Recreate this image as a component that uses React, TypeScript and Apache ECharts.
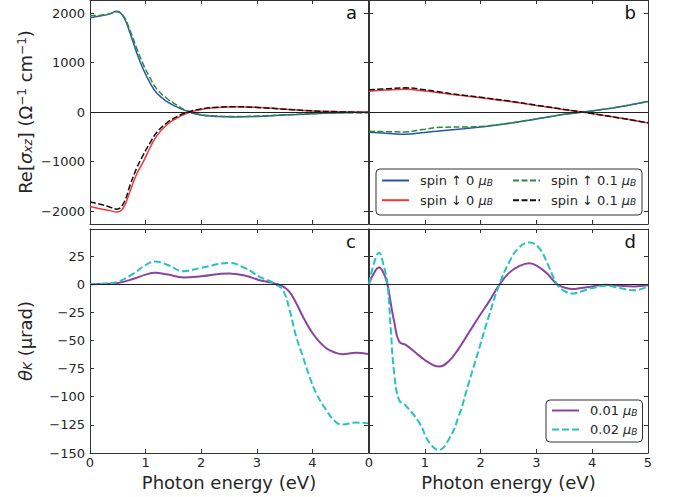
import React, { useEffect, useRef } from 'react';
import * as echarts from 'echarts';

// ---------- data ----------
const energyA = [0, 0.18, 0.36, 0.48, 0.6, 0.72, 0.84, 0.96, 1.08, 1.2, 1.38, 1.55, 1.73, 1.97, 2.3, 2.6, 3.0, 3.5, 4.0, 4.5, 5.0];
const upA0 = [1907, 1940, 1985, 2040, 1930, 1600, 1200, 860, 590, 385, 215, 110, 25, -55, -90, -100, -90, -60, -35, -15, -5];
const downA0 = [-1905, -1950, -1990, -2020, -1935, -1600, -1250, -1000, -720, -480, -260, -130, -30, 50, 95, 110, 100, 60, 25, 8, 0];
const upA01 = [1950, 1955, 1990, 2030, 1945, 1650, 1290, 960, 690, 470, 280, 150, 35, -45, -80, -90, -80, -55, -30, -15, -10];
const downA01 = [-1815, -1860, -1920, -1960, -1850, -1480, -1130, -860, -620, -410, -220, -100, -10, 60, 100, 110, 95, 60, 25, 5, -10];

const energyB = [0, 0.3, 0.65, 1.0, 1.3, 1.7, 2.0, 2.5, 3.0, 3.5, 3.84, 4.0, 4.5, 5.0];
const upB0 = [-405, -425, -445, -410, -375, -335, -300, -230, -140, -45, 0, 25, 110, 215];
const downB0 = [420, 445, 462, 425, 385, 330, 290, 220, 135, 50, 0, -30, -120, -220];
const upB01 = [-385, -395, -400, -345, -305, -300, -290, -225, -135, -45, 0, 25, 110, 215];
const downB01 = [450, 470, 490, 450, 400, 340, 300, 225, 140, 55, 0, -30, -120, -215];

const energyC = [0, 0.3, 0.5, 0.8, 1.0, 1.17, 1.4, 1.68, 2.0, 2.5, 2.8, 3.05, 3.2, 3.33, 3.47, 3.59, 3.71, 3.83, 3.95, 4.07, 4.25, 4.42, 4.54, 4.78, 5.0];
const kerrC001 = [0, 0.3, 1, 5, 8.5, 10.2, 8.5, 6, 7, 9.5, 7.5, 3.5, 2, 0.5, -2, -7, -17, -29, -39.5, -48, -57, -61, -62.2, -61, -62];
const kerrC002 = [0, 0.5, 2, 10, 17, 20.2, 17, 11.5, 14.5, 18.8, 14, 6.5, 3.5, 0, -5.3, -23, -46.8, -64.6, -82.4, -97, -112, -122.4, -124.7, -123, -123.5];

const energyD = [0, 0.08, 0.18, 0.26, 0.33, 0.39, 0.45, 0.54, 0.66, 0.9, 1.08, 1.25, 1.43, 1.61, 1.79, 1.97, 2.15, 2.33, 2.51, 2.69, 2.87, 3.05, 3.2, 3.37, 3.5, 3.65, 3.8, 4.0, 4.25, 4.5, 4.75, 5.0];
const kerrD001 = [0, 9, 14.8, 10, 0, -17, -33, -51, -54, -63.5, -70, -73.2, -68.5, -57, -43, -29, -15.5, -1, 10, 16, 18.5, 15, 9, 0, -3, -4.4, -3.5, -2, -0.5, -1.5, -2, -1];
const kerrD002 = [0, 17, 28, 17, 0, -40, -78.5, -103, -108, -123, -140.7, -147.3, -138, -117, -87.4, -57.8, -28, -1, 19.3, 32.6, 37, 32, 18, 0, -6, -8.3, -6.5, -3.5, -1.5, -3.5, -5.5, -2];

const xTicks = [0, 1, 2, 3, 4, 5];
const sigmaTicks = [-2000, -1000, 0, 1000, 2000];
const kerrTicks = [-150, -125, -100, -75, -50, -25, 0, 25];

const nameUp0 = 'spin ↑ 0 μB';
const nameDown0 = 'spin ↓ 0 μB';
const nameUp01 = 'spin ↑ 0.1 μB';
const nameDown01 = 'spin ↓ 0.1 μB';
const name001 = '0.01 μB';
const name002 = '0.02 μB';

// ---------- style ----------
const FONT = 'DejaVu Sans';
const TXT = '#262626';
const AX = '#333333';
const C_BLUE = '#2756a8';
const C_RED = '#f53535';
const C_GREEN = '#2a8a3a';
const C_BLACK = '#111111';
const C_PURPLE = '#8b44a0';
const C_CYAN = '#26c2c2';

const pairs = (xs: number[], ys: number[]) => xs.map((x, i) => [x, ys[i]]);
const fmtMinus = (v: number) => (v < 0 ? '\u2212' + Math.abs(v) : String(v));

const grids = [
  { left: 90, top: 0, width: 278, height: 224 },
  { left: 369, top: 0, width: 279, height: 224 },
  { left: 90, top: 229, width: 278, height: 224 },
  { left: 369, top: 229, width: 279, height: 224 },
];

const yRanges = [
  [-2260, 2265, sigmaTicks],
  [-2260, 2265, sigmaTicks],
  [-150, 49, kerrTicks],
  [-150, 49, kerrTicks],
] as const;

function buildAxes() {
  const xAxis: any[] = [];
  const yAxis: any[] = [];
  for (let i = 0; i < 4; i++) {
    const showX = i >= 2;
    const base = {
      type: 'value',
      gridIndex: i,
      min: 0,
      max: 5,
      axisLine: { show: true, onZero: false, lineStyle: { color: AX, width: 1 } },
      axisTick: { show: true, inside: true, length: 4, customValues: xTicks, lineStyle: { color: AX } },
      splitLine: { show: false },
    };
    xAxis.push({
      ...base,
      position: 'bottom',
      axisLabel: {
        show: showX,
        customValues: i === 2 ? [0, 1, 2, 3, 4] : xTicks,
        fontSize: 13,
        fontFamily: FONT,
        color: TXT,
        margin: 3,
      },
    });
    xAxis.push({ ...base, position: 'top', axisLabel: { show: false } });
    const [mn, mx, ticks] = yRanges[i];
    const ybase = {
      type: 'value',
      gridIndex: i,
      min: mn,
      max: mx,
      axisLine: { show: true, onZero: false, lineStyle: { color: AX, width: 1 } },
      axisTick: { show: true, inside: true, length: 4, customValues: ticks as any, lineStyle: { color: AX } },
      splitLine: { show: false },
    };
    yAxis.push({
      ...ybase,
      position: 'left',
      axisLabel: {
        show: i === 0 || i === 2,
        customValues: ticks as any,
        formatter: fmtMinus,
        fontSize: 13,
        fontFamily: FONT,
        color: TXT,
        margin: 5,
      },
    });
    yAxis.push({ ...ybase, position: 'right', axisLabel: { show: false } });
  }
  return { xAxis, yAxis };
}

const zeroLine = {
  silent: true,
  symbol: 'none',
  label: { show: false },
  lineStyle: { color: '#222', width: 1, type: 'solid' },
  data: [{ yAxis: 0 }],
};

function line(name: string, grid: number, xs: number[], ys: number[], color: string, dashed: boolean, width: number, withZero = false) {
  const s: any = {
    type: 'line',
    name,
    xAxisIndex: grid * 2,
    yAxisIndex: grid * 2,
    data: pairs(xs, ys),
    showSymbol: false,
    symbol: 'none',
    smooth: 0.45,
    lineStyle: { color, width, type: dashed ? (width > 1.8 ? [7, 3] : [6, 2.5]) : 'solid' },
    itemStyle: { color },
    z: 2,
  };
  if (withZero) s.markLine = zeroLine;
  return s;
}

const legendText = {
  fontSize: 13,
  fontFamily: FONT,
  color: TXT,
  padding: [0, 0, 0, 6],
  rich: {
    m: { fontSize: 13, fontStyle: 'italic', fontFamily: FONT, color: TXT },
    s: { fontSize: 9, fontStyle: 'italic', fontFamily: FONT, color: TXT, verticalAlign: 'bottom' },
  },
};
const legendFormatter = (n: string) => n.replace('μB', '{m|μ}{s|B}');
const legendCommon = {
  orient: 'vertical',
  itemWidth: 27,
  itemHeight: 14,
  itemStyle: { opacity: 0 },
  textStyle: legendText,
  formatter: legendFormatter,
  z: 5,
};

export default function App() {
  const ref = useRef<HTMLDivElement>(null);
  useEffect(() => {
    const chart = echarts.init(ref.current!, null, { renderer: 'svg' });
    const { xAxis, yAxis } = buildAxes();
    const option: any = {
      animation: false,
      backgroundColor: '#fff',
      textStyle: { fontFamily: FONT },
      grid: grids,
      xAxis,
      yAxis,
      legend: [
        { ...legendCommon, left: 381, top: 174, padding: 0, itemGap: 6.7, data: [nameUp0, nameDown0] },
        { ...legendCommon, left: 512, top: 174, padding: 0, itemGap: 6.7, data: [nameUp01, nameDown01] },
        {
          ...legendCommon, left: 546, top: 400, padding: [4, 5, 6, 5], itemGap: 6, data: [name001, name002],
          borderColor: AX, borderWidth: 1, borderRadius: 4, backgroundColor: '#fff',
        },
      ],
      series: [
        line(nameUp0, 0, energyA, upA0, C_BLUE, false, 1.5, true),
        line(nameDown0, 0, energyA, downA0, C_RED, false, 1.5),
        line(nameUp01, 0, energyA, upA01, C_GREEN, true, 1.5),
        line(nameDown01, 0, energyA, downA01, C_BLACK, true, 1.5),
        line(nameUp0, 1, energyB, upB0, C_BLUE, false, 1.5, true),
        line(nameDown0, 1, energyB, downB0, C_RED, false, 1.5),
        line(nameUp01, 1, energyB, upB01, C_GREEN, true, 1.5),
        line(nameDown01, 1, energyB, downB01, C_BLACK, true, 1.5),
        line(name001, 2, energyC, kerrC001, C_PURPLE, false, 2, true),
        line(name002, 2, energyC, kerrC002, C_CYAN, true, 2),
        line(name001, 3, energyD, kerrD001, C_PURPLE, false, 2, true),
        line(name002, 3, energyD, kerrD002, C_CYAN, true, 2),
      ],
      graphic: [
        {
          type: 'rect', z: 3,
          shape: { x: 376, y: 169, width: 266, height: 46, r: 4 },
          style: { fill: '#fff', stroke: AX, lineWidth: 1 },
        },
        { type: 'text', x: 357, y: 12.5, style: { text: 'a', fontSize: 18, fontFamily: FONT, fill: '#111', align: 'right', verticalAlign: 'middle' } },
        { type: 'text', x: 636, y: 12.5, style: { text: 'b', fontSize: 18, fontFamily: FONT, fill: '#111', align: 'right', verticalAlign: 'middle' } },
        { type: 'text', x: 356, y: 241.5, style: { text: 'c', fontSize: 18, fontFamily: FONT, fill: '#111', align: 'right', verticalAlign: 'middle' } },
        { type: 'text', x: 636, y: 241.5, style: { text: 'd', fontSize: 18, fontFamily: FONT, fill: '#111', align: 'right', verticalAlign: 'middle' } },
        { type: 'text', x: 229, y: 482, style: { text: 'Photon energy (eV)', fontSize: 18, fontFamily: FONT, fill: TXT, align: 'center', verticalAlign: 'middle' } },
        { type: 'text', x: 508.5, y: 482, style: { text: 'Photon energy (eV)', fontSize: 18, fontFamily: FONT, fill: TXT, align: 'center', verticalAlign: 'middle' } },
        {
          type: 'text', x: 25, y: 112, rotation: Math.PI / 2,
          style: {
            text: 'Re[{i|σ}{sub|xz}] (Ω{sup|−1} cm{sup|−1})',
            fontSize: 18, fontFamily: FONT, fill: TXT, align: 'center', verticalAlign: 'middle',
            rich: {
              i: { fontSize: 18, fontStyle: 'italic', fontFamily: FONT, fill: TXT },
              sub: { fontSize: 12, fontStyle: 'italic', fontFamily: FONT, fill: TXT, verticalAlign: 'bottom' },
              sup: { fontSize: 12, fontFamily: FONT, fill: TXT, verticalAlign: 'top' },
            },
          },
        },
        {
          type: 'text', x: 25, y: 341, rotation: Math.PI / 2,
          style: {
            text: '{i|θ}{sub|K} (μrad)',
            fontSize: 18, fontFamily: FONT, fill: TXT, align: 'center', verticalAlign: 'middle',
            rich: {
              i: { fontSize: 18, fontStyle: 'italic', fontFamily: FONT, fill: TXT },
              sub: { fontSize: 12, fontStyle: 'italic', fontFamily: FONT, fill: TXT, verticalAlign: 'bottom' },
            },
          },
        },
      ],
    };
    chart.setOption(option);
    return () => chart.dispose();
  }, []);
  return <div ref={ref} style={{ position: 'absolute', left: 0, top: 0, width: 683, height: 497 }} />;
}
